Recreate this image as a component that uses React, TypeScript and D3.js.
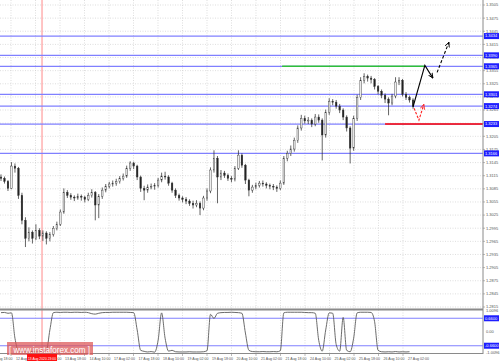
import React from 'react';
import * as d3 from 'd3';

const W = 500, H = 361;

const opens = [1.3112,1.3109,1.3102,1.3086,1.3137,1.3132,1.3070,1.3013,1.2972,1.2986,
1.2972,1.2990,1.2977,1.2984,1.2972,1.2981,1.2995,1.3004,1.3032,1.3077,
1.3070,1.3066,1.3064,1.3068,1.3066,1.3061,1.3070,1.3077,1.3048,1.3068,
1.3082,1.3091,1.3096,1.3098,1.3102,1.3109,1.3114,1.3132,1.3144,1.3137,
1.3112,1.3086,1.3082,1.3089,1.3091,1.3093,1.3105,1.3114,1.3112,1.3098,
1.3082,1.3070,1.3064,1.3061,1.3057,1.3052,1.3048,1.3052,1.3041,1.3064,
1.3080,1.3128,1.3155,1.3112,1.3121,1.3116,1.3109,1.3107,1.3132,1.3162,
1.3139,1.3105,1.3082,1.3089,1.3093,1.3098,1.3096,1.3093,1.3091,1.3089,
1.3086,1.3098,1.3155,1.3166,1.3176,1.3196,1.3224,1.3246,1.3240,1.3242,
1.3233,1.3249,1.3242,1.3208,1.3260,1.3285,1.3283,1.3274,1.3265,1.3249,
1.3224,1.3178,1.3246,1.3294,1.3333,1.3342,1.3338,1.3335,1.3319,1.3308,
1.3299,1.3290,1.3281,1.3297,1.3329,1.3333,1.3301,1.3294,1.3288];

const closes = [1.3109,1.3102,1.3086,1.3137,1.3132,1.3070,1.3013,1.2972,1.2986,1.2972,
1.2990,1.2977,1.2984,1.2972,1.2981,1.2995,1.3004,1.3032,1.3077,1.3070,
1.3066,1.3064,1.3068,1.3066,1.3061,1.3070,1.3077,1.3048,1.3068,1.3082,
1.3091,1.3096,1.3098,1.3102,1.3109,1.3114,1.3132,1.3144,1.3137,1.3112,
1.3086,1.3082,1.3089,1.3091,1.3093,1.3105,1.3114,1.3112,1.3098,1.3082,
1.3070,1.3064,1.3061,1.3057,1.3052,1.3048,1.3052,1.3041,1.3064,1.3080,
1.3128,1.3155,1.3112,1.3121,1.3116,1.3109,1.3107,1.3132,1.3162,1.3139,
1.3105,1.3082,1.3089,1.3093,1.3098,1.3096,1.3093,1.3091,1.3089,1.3086,
1.3098,1.3155,1.3166,1.3176,1.3196,1.3224,1.3246,1.3240,1.3242,1.3233,
1.3249,1.3242,1.3208,1.3260,1.3285,1.3283,1.3274,1.3265,1.3249,1.3224,
1.3178,1.3246,1.3294,1.3333,1.3342,1.3338,1.3335,1.3319,1.3308,1.3299,
1.3290,1.3281,1.3297,1.3329,1.3333,1.3301,1.3294,1.3288,1.3274];

const highs = [1.3118,1.3113,1.3105,1.3146,1.3143,1.3135,1.3076,1.3020,1.2997,1.2990,
1.3004,1.2995,1.2990,1.2988,1.2986,1.3000,1.3010,1.3038,1.3086,1.3082,
1.3075,1.3070,1.3074,1.3072,1.3069,1.3076,1.3084,1.3080,1.3073,1.3088,
1.3096,1.3101,1.3104,1.3108,1.3114,1.3120,1.3138,1.3148,1.3147,1.3140,
1.3115,1.3092,1.3095,1.3097,1.3098,1.3110,1.3122,1.3124,1.3116,1.3101,
1.3086,1.3074,1.3068,1.3066,1.3061,1.3058,1.3059,1.3056,1.3069,1.3086,
1.3134,1.3173,1.3160,1.3128,1.3126,1.3120,1.3114,1.3137,1.3173,1.3166,
1.3142,1.3108,1.3094,1.3099,1.3103,1.3104,1.3100,1.3097,1.3096,1.3093,
1.3104,1.3160,1.3172,1.3184,1.3202,1.3230,1.3254,1.3252,1.3249,1.3246,
1.3256,1.3255,1.3246,1.3266,1.3292,1.3290,1.3288,1.3279,1.3269,1.3253,
1.3228,1.3252,1.3300,1.3340,1.3349,1.3346,1.3343,1.3338,1.3322,1.3312,
1.3303,1.3294,1.3302,1.3340,1.3340,1.3336,1.3306,1.3298,1.3292];

const lows = [1.3103,1.3097,1.3080,1.3084,1.3122,1.3062,1.3004,1.2952,1.2965,1.2960,
1.2968,1.2970,1.2966,1.2958,1.2965,1.2976,1.2990,1.3000,1.3028,1.3064,
1.3060,1.3057,1.3060,1.3058,1.3054,1.3057,1.3065,1.3013,1.3018,1.3062,
1.3077,1.3086,1.3090,1.3092,1.3097,1.3104,1.3110,1.3126,1.3130,1.3105,
1.3078,1.3059,1.3076,1.3084,1.3083,1.3088,1.3100,1.3106,1.3092,1.3076,
1.3064,1.3058,1.3054,1.3050,1.3046,1.3040,1.3043,1.3025,1.3036,1.3058,
1.3075,1.3122,1.3052,1.3105,1.3110,1.3103,1.3100,1.3102,1.3128,1.3133,
1.3096,1.3068,1.3076,1.3084,1.3088,1.3090,1.3086,1.3084,1.3082,1.3078,
1.3082,1.3094,1.3148,1.3160,1.3170,1.3190,1.3218,1.3234,1.3233,1.3226,
1.3228,1.3236,1.3150,1.3202,1.3254,1.3276,1.3268,1.3258,1.3242,1.3216,
1.3143,1.3172,1.3240,1.3288,1.3326,1.3330,1.3326,1.3312,1.3301,1.3292,
1.3281,1.3253,1.3276,1.3292,1.3322,1.3296,1.3288,1.3282,1.3268];

const oscillator = [0.93,0.94,0.90,0.92,-0.30,-0.92,-0.95,-0.93,-0.96,-0.94,
-0.95,-0.92,-0.95,-0.90,0.10,0.93,0.95,0.94,0.95,0.95,
0.94,0.95,0.95,0.94,0.95,0.93,0.88,0.86,0.90,0.93,
0.94,0.94,0.95,0.95,0.95,0.95,0.95,0.94,0.93,0.10,
-0.88,-0.93,-0.96,-0.94,-0.97,-0.40,0.92,-0.30,-0.92,-0.88,
-0.95,-0.96,-0.96,-0.96,-0.95,-0.96,-0.96,-0.96,-0.95,-0.90,
0.85,0.65,0.90,0.93,0.94,0.94,0.95,0.94,0.93,0.90,
-0.05,-0.88,-0.94,-0.95,-0.95,-0.94,-0.95,-0.95,-0.94,-0.95,
-0.90,0.92,0.95,0.95,0.95,0.95,0.95,0.94,0.93,0.93,
0.90,-0.40,-0.92,0.10,0.92,0.90,-0.60,-0.92,0.70,-0.88,
-0.95,-0.30,0.92,0.95,0.95,0.95,0.94,0.50,-0.88,-0.95,
-0.96,-0.95,-0.96,-0.94,-0.96,-0.95,-0.96,-0.95];

const priceTicks = [1.3505,1.3475,1.3445,1.3415,1.3385,1.3355,1.3325,1.3295,1.3265,1.3235,
1.3205,1.3175,1.3145,1.3115,1.3085,1.3055,1.3025,1.2995,1.2965,1.2935,1.2905,1.2875,1.2845,1.2815];

const timeLabels = ["11 Aug 18:00","12 Aug 10:00","13 Aug 02:00","13 Aug 18:00","14 Aug 10:00",
"17 Aug 02:00","17 Aug 18:00","18 Aug 10:00","19 Aug 02:00","19 Aug 18:00","20 Aug 10:00",
"21 Aug 02:00","21 Aug 18:00","24 Aug 10:00","25 Aug 02:00","25 Aug 18:00","26 Aug 10:00","27 Aug 02:00"];

const levels = [1.3434,1.3390,1.3365,1.3301,1.3274,1.3233,1.3166];
const oscLevels = [0.66,-0.66];
const oscTicks = [1.0096,0,-1.0096];
const oscTickLabels = ["1.0096","0.00","-1.0096"];

const greenSegment = [80.5, 121.4];
const greenPrice = 1.3365;
const redStart = 110;
const redPrice = 1.3233;
const blackSolid: [number, number][] = [[118,1.3272],[121.4,1.3367],[123.7,1.3338]];
const blackDashed: [number, number][] = [[124.9,1.3351],[128.3,1.3420]];
const redDashed: [number, number][] = [[118.3,1.3269],[119.7,1.3242],[121.1,1.3278]];
const crossIndex = 11.75;
const crossLabel = "13 Aug 2020 23:00";

export default function App() {
  const right = 483;
  const x = d3.scaleLinear().domain([0, 118]).range([1, 413]);
  const y = d3.scaleLinear().domain([1.2815, 1.3505]).range([307, 5]);
  const oy = d3.scaleLinear().domain([-1.0096, 1.0096]).range([353, 311]);
  const tx = d3.scaleLinear().domain([0, 17]).range([-13.5, 403]);

  const annLine = d3.line<[number, number]>().x(d => x(d[0])).y(d => y(d[1]));
  const oscLine = d3.line<number>().x((_, i) => x(i)).y(d => oy(d)).curve(d3.curveMonotoneX);
  const font = "Liberation Sans, Arial, sans-serif";
  const cx = x(crossIndex);

  return (
    <svg width={W} height={H} style={{ position: 'absolute', left: 0, top: 0, background: '#fff' }}>
      <defs>
        <marker id="ahB" viewBox="0 0 10 10" refX="9" refY="5" markerWidth="5" markerHeight="5" orient="auto">
          <path d="M0,1 L9,5 L0,9" fill="none" stroke="#000" strokeWidth={1.6} />
        </marker>
        <marker id="ahR" viewBox="0 0 10 10" refX="9" refY="5" markerWidth="5" markerHeight="5" orient="auto">
          <path d="M0,1 L9,5 L0,9" fill="none" stroke="#ff2020" strokeWidth={1.6} />
        </marker>
      </defs>
      <rect x={0} y={0} width={W} height={H} fill="#fff" />
      {timeLabels.map((_, k) => (
        <line key={'vg' + k} x1={tx(k)} x2={tx(k)} y1={0} y2={353} stroke="#c8c8c8" strokeWidth={0.6} strokeDasharray="1,1.5" />
      ))}
      {priceTicks.map((p, k) => (
        <line key={'hg' + k} x1={0} x2={right} y1={y(p)} y2={y(p)} stroke="#c8c8c8" strokeWidth={0.6} strokeDasharray="1,1.5" />
      ))}
      <line x1={cx} x2={cx} y1={0} y2={353} stroke="#ff8a8a" strokeWidth={1} />
      {levels.map((p, k) => (
        <line key={'lv' + k} x1={0} x2={right} y1={y(p)} y2={y(p)} stroke="#8080ff" strokeWidth={1.3} />
      ))}
      <line x1={x(greenSegment[0])} x2={x(greenSegment[1])} y1={y(greenPrice)} y2={y(greenPrice)} stroke="#2fbf3a" strokeWidth={1.5} />
      <line x1={x(redStart)} x2={right} y1={y(redPrice)} y2={y(redPrice)} stroke="#ff0000" strokeWidth={1.5} />
      {closes.map((c, i) => {
        const o = opens[i];
        const bull = c >= o;
        const top = y(Math.max(o, c));
        const bot = y(Math.min(o, c));
        return (
          <g key={'c' + i}>
            <line x1={x(i)} x2={x(i)} y1={y(highs[i])} y2={y(lows[i])} stroke="#222" strokeWidth={0.7} />
            <rect x={x(i) - 0.8} y={top} width={1.6} height={Math.max(bot - top, 0.8)}
              fill={bull ? '#eee' : '#222'} stroke="#333" strokeWidth={0.4} />
          </g>
        );
      })}
      <path d={annLine(blackSolid) || ''} fill="none" stroke="#000" strokeWidth={1.1} markerEnd="url(#ahB)" />
      <path d={annLine(blackDashed) || ''} fill="none" stroke="#000" strokeWidth={1.1} strokeDasharray="3,2" markerEnd="url(#ahB)" />
      <path d={annLine(redDashed) || ''} fill="none" stroke="#ff2020" strokeWidth={1.1} strokeDasharray="2.5,1.5" markerEnd="url(#ahR)" />
      <line x1={0} x2={right} y1={309.5} y2={309.5} stroke="#8a8a8a" strokeWidth={2} />
      <line x1={0} x2={right} y1={353.5} y2={353.5} stroke="#8a8a8a" strokeWidth={1} />
      <line x1={right} x2={right} y1={0} y2={354} stroke="#8a8a8a" strokeWidth={1} />
      {oscLevels.map((v, k) => (
        <line key={'ol' + k} x1={0} x2={right} y1={oy(v)} y2={oy(v)} stroke="#8080ff" strokeWidth={1.2} />
      ))}
      <path d={oscLine(oscillator) || ''} fill="none" stroke="#5a5a5a" strokeWidth={0.9} />
      <rect x={7} y={342} width={86} height={13} fill="rgba(220,85,85,0.72)" />
      <text x={9} y={352.5} fontFamily={font} fontSize={8.5} fill="#fff" textLength={81} lengthAdjust="spacingAndGlyphs">[ www.instaforex.com ]</text>
      {priceTicks.map((p, k) => (
        <g key={'pt' + k}>
          <line x1={right} x2={right + 2} y1={y(p)} y2={y(p)} stroke="#8a8a8a" strokeWidth={0.6} />
          <text x={right + 3} y={y(p)} dy="0.35em" fontFamily={font} fontSize={4} fill="#555">{p.toFixed(4)}</text>
        </g>
      ))}
      {levels.map((p, k) => (
        <g key={'lb' + k}>
          <rect x={right + 1} y={y(p) - 3} width={15} height={6} fill="#1e1eff" />
          <text x={right + 2} y={y(p)} dy="0.35em" fontFamily={font} fontSize={4} fill="#fff">{p.toFixed(4)}</text>
        </g>
      ))}
      {oscTicks.map((v, k) => (
        <text key={'ot' + k} x={right + 3} y={oy(v)} dy="0.35em" fontFamily={font} fontSize={4} fill="#555">{oscTickLabels[k]}</text>
      ))}
      {oscLevels.map((v, k) => (
        <g key={'olb' + k}>
          <rect x={right + 1} y={oy(v) - 3} width={15} height={6} fill="#1e1eff" />
          <text x={right + 2} y={oy(v)} dy="0.35em" fontFamily={font} fontSize={4} fill="#fff">{v.toFixed(4)}</text>
        </g>
      ))}
      {timeLabels.map((t, k) => (
        <g key={'tl' + k}>
          <line x1={tx(k)} x2={tx(k)} y1={354} y2={356} stroke="#8a8a8a" strokeWidth={0.6} />
          <text x={tx(k) + 5} y={359.5} fontFamily={font} fontSize={4} fill="#555" textLength={21} lengthAdjust="spacingAndGlyphs">{t}</text>
        </g>
      ))}
      <rect x={cx - 15} y={354} width={30} height={7} fill="#ff1010" />
      <text x={cx - 14} y={359.5} fontFamily={font} fontSize={4} fill="#fff" textLength={28} lengthAdjust="spacingAndGlyphs">{crossLabel}</text>
    </svg>
  );
}
